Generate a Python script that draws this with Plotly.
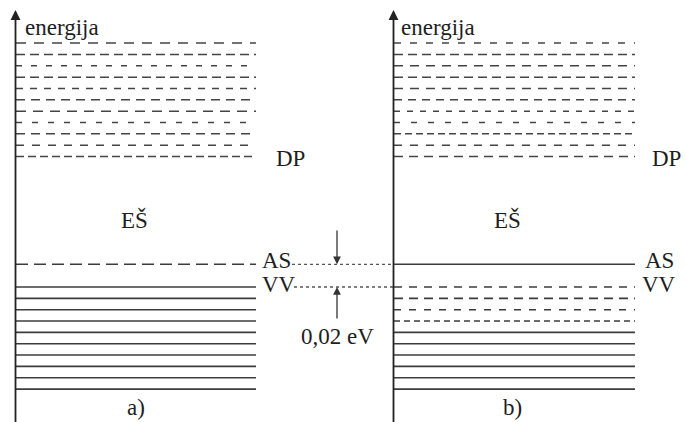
import plotly.graph_objects as go

# ---- data (energies in eV, valence-band top = 0) ----
cb_levels = [0.115, 0.125, 0.135, 0.145, 0.155, 0.165, 0.175, 0.185, 0.195, 0.205, 0.215]
vb_levels = [0.00, -0.01, -0.02, -0.03, -0.04, -0.05, -0.06, -0.07, -0.08, -0.09]
acceptor_level = 0.02
gap_label = "0,02 eV"
# panel b: top valence levels emptied (holes), acceptor level filled
vb_b_empty = [0.00, -0.01, -0.02, -0.03]
vb_b_filled = [-0.04, -0.05, -0.06, -0.07, -0.08, -0.09]

# ---- layout constants ----
W, H = 686, 422
X_LO, X_HI = 0, 686
Y_LO, Y_HI = -0.119, 0.253
AX_A, AX_B = 15.5, 393.5
A_X0, A_X1 = 16, 256
B_X0, B_X1 = 394, 635
LINE_COL = "#3c3c3c"
TXT_COL = "#1e1e1e"
FONT = "Liberation Serif"
FS = 23

dash_a = ["10px,8px", "9px,5px", "6px,9px", "9px,5px", "7px,7px", "9px,6px",
          "10px,7px", "6px,10px", "9px,6px", "8px,8px", "8px,4px"]
dash_b = ["7px,9px", "9px,5px", "9px,7px", "9px,5px", "9px,7px", "8px,6px",
          "6px,7px", "6px,11px", "7px,4px", "8px,8px", "9px,6px"]
dash_b_vb = ["8px,7px", "9px,6px", "7px,8px", "6px,4px"]

fig = go.Figure()


def hline(x0, x1, e, dash="solid", width=1.5, color=LINE_COL):
    fig.add_trace(go.Scatter(x=[x0, x1], y=[e, e], mode="lines",
                             line=dict(color=color, width=width, dash=dash),
                             hoverinfo="skip", showlegend=False))


# panel a
for e, d in zip(cb_levels, reversed(dash_a)):
    hline(A_X0, A_X1, e, d, 1.5, "#454545")
hline(A_X0, A_X1, acceptor_level, "12px,6px", 1.6)
for e in vb_levels:
    hline(A_X0, A_X1, e, "solid", 1.6)

# panel b
for e, d in zip(cb_levels, reversed(dash_b)):
    hline(B_X0, B_X1, e, d, 1.5, "#454545")
hline(B_X0, B_X1, acceptor_level, "solid", 1.6)
for e, d in zip(vb_b_empty, dash_b_vb):
    hline(B_X0, B_X1, e, d, 1.6)
for e in vb_b_filled:
    hline(B_X0, B_X1, e, "solid", 1.6)

# dotted connectors between panels
hline(292, AX_B, acceptor_level, "dot", 1.3, "#555555")
hline(294, AX_B, vb_levels[0], "dot", 1.3, "#555555")

annotations = []
# energy axes with arrows
for xa in (AX_A, AX_B):
    annotations.append(dict(x=xa, y=0.2442, ax=xa, ay=Y_LO - 0.01, xref="x", yref="y",
                            axref="x", ayref="y", showarrow=True, arrowhead=2,
                            arrowsize=1.1, arrowwidth=1.8, arrowcolor="#222222",
                            standoff=0, text=""))
# 0.02 eV arrows
annotations.append(dict(x=337, y=acceptor_level, ax=337, ay=0.0511, xref="x", yref="y",
                        axref="x", ayref="y", showarrow=True, arrowhead=2, arrowsize=1.2,
                        arrowwidth=1.3, arrowcolor="#333333", standoff=0, text=""))
annotations.append(dict(x=337, y=vb_levels[0], ax=337, ay=-0.0291, xref="x", yref="y",
                        axref="x", ayref="y", showarrow=True, arrowhead=2, arrowsize=1.2,
                        arrowwidth=1.3, arrowcolor="#333333", standoff=0, text=""))


def label(text, x, y, xanchor="left", size=FS):
    annotations.append(dict(x=x, y=y, xref="x", yref="y", text=text, showarrow=False,
                            xanchor=xanchor, yanchor="middle",
                            font=dict(family=FONT, size=size, color=TXT_COL)))


label("energija", 23, 0.229)
label("energija", 399, 0.229)
label("DP", 274, 0.1137)
label("DP", 650, 0.1137)
label("EŠ", 134, 0.059, "center")
label("EŠ", 507, 0.059, "center")
label("AS", 260, 0.0235)
label("VV", 260, 0.0025)
label("AS", 643, 0.0235)
label("VV", 640, 0.0025)
label(gap_label, 337, -0.0432, "center")
label("a)", 136, -0.1065, "center")
label("b)", 512, -0.1065, "center")

fig.update_layout(
    width=W, height=H, autosize=False,
    margin=dict(l=0, r=0, t=0, b=0),
    paper_bgcolor="white", plot_bgcolor="white",
    xaxis=dict(range=[X_LO, X_HI], visible=False, fixedrange=True),
    yaxis=dict(range=[Y_LO, Y_HI], visible=False, fixedrange=True),
    annotations=annotations,
)

fig.write_html("out.html", config={"displayModeBar": False},
               post_script="document.body.style.margin='0';document.body.style.overflow='hidden';")
